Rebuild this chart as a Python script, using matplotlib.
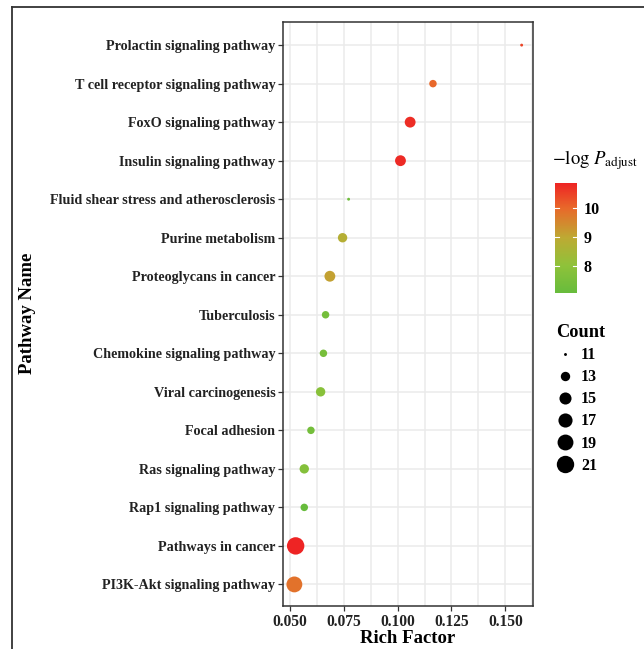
import numpy as np
import matplotlib
matplotlib.use("Agg")
import matplotlib.pyplot as plt
from matplotlib.colors import LinearSegmentedColormap, Normalize
from matplotlib.colorbar import ColorbarBase
from matplotlib.lines import Line2D
from matplotlib.ticker import MultipleLocator

plt.rcParams['font.family'] = ['Liberation Serif', 'DejaVu Serif']
plt.rcParams['mathtext.fontset'] = 'stix'

# Data (bottom -> top)
pathways = [
    "PI3K-Akt signaling pathway",
    "Pathways in cancer",
    "Rap1 signaling pathway",
    "Ras signaling pathway",
    "Focal adhesion",
    "Viral carcinogenesis",
    "Chemokine signaling pathway",
    "Tuberculosis",
    "Proteoglycans in cancer",
    "Purine metabolism",
    "Fluid shear stress and atherosclerosis",
    "Insulin signaling pathway",
    "FoxO signaling pathway",
    "T cell receptor signaling pathway",
    "Prolactin signaling pathway",
]
rich_factor = [0.0520, 0.0526, 0.0566, 0.0566, 0.0597, 0.0642, 0.0655,
               0.0665, 0.0685, 0.0744, 0.0772, 0.1013, 0.1058, 0.1164, 0.1576]
counts = [19, 21, 12, 13, 12, 13, 12, 12, 14, 13, 11, 14, 14, 12, 11]
neg_log_padj = [9.85, 10.88, 7.05, 7.75, 7.35, 7.85, 7.45, 7.40, 9.10, 8.80,
                7.25, 10.80, 10.75, 10.00, 10.45]
count_breaks = [11, 13, 15, 17, 19, 21]
color_ticks = [8, 9, 10]

W, H = 644, 649
fig = plt.figure(figsize=(W / 100, H / 100), dpi=100)

# panel position (pixels -> fraction)
px_l, px_r, px_t, px_b = 283, 533, 22, 606
ax = fig.add_axes([px_l / W, 1 - px_b / H, (px_r - px_l) / W, (px_b - px_t) / H])

cmap = LinearSegmentedColormap.from_list(
    "gr", [(0.0, "#67BC3C"), (0.25, "#8FC23A"), (0.5, "#BDAA33"),
           (0.77, "#E8692A"), (1.0, "#EE2424")])
vmin, vmax = 7.05, 10.88
norm = Normalize(vmin=vmin, vmax=vmax)

cmin, cmax = 11, 21
def size_of(v):
    d_px = 2.9 * (1 + 5 * np.sqrt((np.asarray(v, float) - cmin) / (cmax - cmin)))
    return (d_px * 0.72) ** 2

ypos = np.arange(len(pathways))
ax.scatter(rich_factor, ypos, s=size_of(counts), c=neg_log_padj, cmap=cmap,
           norm=norm, linewidths=0, zorder=3)

ax.set_yticks(ypos)
ax.set_yticklabels(pathways, fontsize=10.15, fontweight='bold', color='#222222')
ax.set_ylim(-0.56, len(pathways) - 1 + 0.6)
ax.margins(x=0.05)
ax.xaxis.set_minor_locator(MultipleLocator(0.0125))
ax.set_xticks([0.05, 0.075, 0.1, 0.125, 0.15])
ax.set_xticklabels(['0.050', '0.075', '0.100', '0.125', '0.150'],
                   fontsize=11.2, fontweight='bold', color='#222222')
ax.tick_params(axis='both', which='major', length=3.5, width=0.9, color='#333333', pad=2)
ax.tick_params(axis='x', which='minor', length=0)

ax.grid(True, which='major', color='#EBEBEB', lw=1.1, zorder=0)
ax.grid(True, which='minor', axis='x', color='#EBEBEB', lw=1.1, zorder=0)
ax.set_axisbelow(True)
for sp in ax.spines.values():
    sp.set_color('#333333')
    sp.set_linewidth(1.1)

ax.set_xlabel('Rich Factor', fontsize=13.5, fontweight='bold', labelpad=0)
fig.text(27 / W, 1 - 313 / H, 'Pathway Name', rotation=90, fontsize=13.5,
         fontweight='bold', ha='center', va='center')

# colour legend
fig.text(552 / W, 1 - 160 / H, r'$-\log\,P_{\mathrm{adjust}}$', fontsize=13.5,
         ha='left', va='center')
cax = fig.add_axes([555 / W, 1 - 293 / H, 22 / W, 110 / H])
cb = ColorbarBase(cax, cmap=cmap, norm=norm, orientation='vertical')
cb.outline.set_visible(False)
cb.set_ticks(color_ticks)
cb.ax.tick_params(length=0, labelsize=11.5, pad=5)
for t in cb.ax.get_yticklabels():
    t.set_fontweight('bold')
for v in color_ticks:
    cax.plot([0, 0.2], [v, v], color='white', lw=0.8)
    cax.plot([0.8, 1], [v, v], color='white', lw=0.8)

# size legend
handles = [Line2D([], [], ls='none', marker='o', color='black',
                  markersize=np.sqrt(size_of(b)), markeredgewidth=0)
           for b in count_breaks]
leg = fig.legend(handles, [str(b) for b in count_breaks], title='Count',
                 loc='upper left', bbox_to_anchor=(545 / W, 1 - 313 / H),
                 frameon=False, fontsize=11.5, title_fontsize=13.2,
                 labelspacing=0.38, handletextpad=0.45, handlelength=1.1,
                 borderpad=0.2)
leg.get_title().set_fontweight('bold')
leg._legend_box.align = 'left'
for t in leg.get_texts():
    t.set_fontweight('bold')

# outer frame (cropped on right and bottom)
x0, y0 = 11.5 / W, 1 - 6.5 / H
fig.add_artist(Line2D([x0, x0], [-0.01, y0], color='#333333', lw=1.3))
fig.add_artist(Line2D([x0, 1.01], [y0, y0], color='#333333', lw=1.3))

fig.savefig('out.png', dpi=100)
